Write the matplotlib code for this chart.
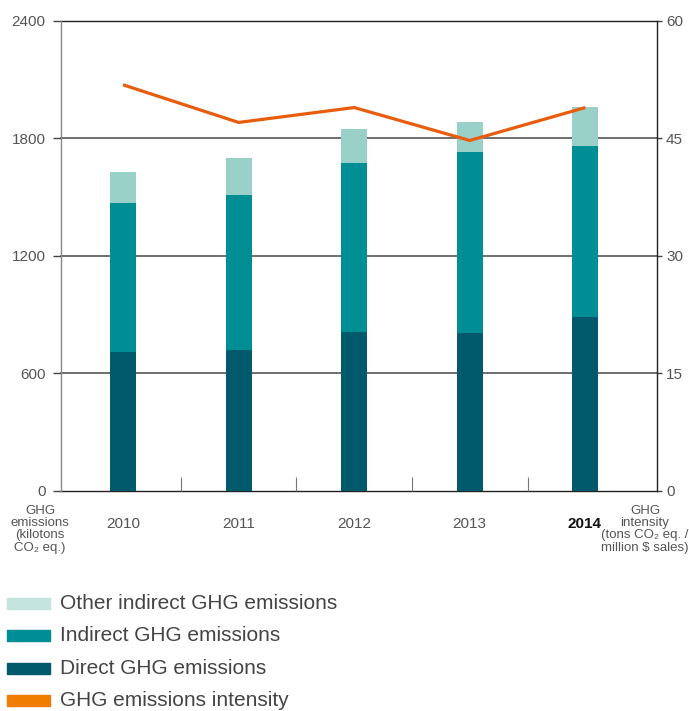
import matplotlib
matplotlib.use("Agg")
import matplotlib.pyplot as plt
from matplotlib.patches import Rectangle
import numpy as np

plt.rcParams['font.family'] = ['Liberation Sans', 'DejaVu Sans']

years = ["2010", "2011", "2012", "2013", "2014"]
direct = [708, 718, 810, 805, 887]
indirect = [760, 790, 861, 922, 871]
other_indirect = [157, 189, 174, 153, 199]
intensity = [51.8, 47.0, 48.9, 44.7, 48.9]
left_ticks = [0, 600, 1200, 1800, 2400]
right_ticks = [0, 15, 30, 45, 60]

c_other = "#99d1c9"
c_other_leg = "#c4e4de"
c_ind = "#008e95"
c_dir = "#005a6c"
c_line = "#e85d0c"
c_line_leg = "#ef7d00"
txt = "#555555"

W, H = 689, 711
fig = plt.figure(figsize=(W / 100, H / 100), dpi=100)
ax = fig.add_axes([61 / W, 1 - 491 / H, (657 - 61) / W, (491 - 20.5) / H])

x = np.arange(len(years))
bw = 0.225
ax.bar(x, direct, bw, color=c_dir, zorder=2)
ax.bar(x, indirect, bw, bottom=direct, color=c_ind, zorder=2)
bot2 = np.array(direct) + np.array(indirect)
ax.bar(x, other_indirect, bw, bottom=bot2, color=c_other, zorder=2)

ax.set_xlim(-0.537, 4.62)
ax.set_ylim(0, 2400)

for t in left_ticks:
    col = "#222222" if t in (0, 2400) else "#555555"
    ax.axhline(t, color=col, lw=1.0 if t in (0, 2400) else 1.2, zorder=1, clip_on=False)

ax.set_yticks(left_ticks)
ax.set_yticklabels([str(t) for t in left_ticks])
ax.tick_params(axis='y', length=6, width=1.0, color="#444444", labelsize=11,
               labelcolor=txt, pad=5)
ax.set_xticks([0.5, 1.5, 2.5, 3.5])
ax.set_xticklabels([])
ax.tick_params(axis='x', direction='in', length=10, width=0.8, color="#777777")

for s in ['top', 'bottom']:
    ax.spines[s].set_visible(False)
ax.spines['left'].set_color("#888888")
ax.spines['left'].set_linewidth(1.0)
ax.spines['right'].set_visible(False)

ax2 = ax.twinx()
ax2.set_ylim(0, 60)
ax2.set_xlim(ax.get_xlim())
ax2.plot(x, intensity, color=c_line, lw=2.3, zorder=5, solid_capstyle='butt')
ax2.set_yticks(right_ticks)
ax2.set_yticklabels([str(t) for t in right_ticks])
ax2.tick_params(axis='y', length=3.5, width=1.0, color="#444444", labelsize=11,
                labelcolor=txt, pad=3)
for s in ['top', 'bottom', 'left']:
    ax2.spines[s].set_visible(False)
ax2.spines['right'].set_color("#222222")
ax2.spines['right'].set_linewidth(1.0)

# year labels
for i, y in enumerate(years):
    fig.text((123 + 115.5 * i) / W, 1 - 524 / H, y, ha='center', va='center',
             fontsize=11, color="#111111" if i == 4 else txt,
             fontweight='bold' if i == 4 else 'normal')

fig.text(40 / W, 1 - 505 / H, "GHG\nemissions\n(kilotons\nCO\u2082 eq.)", ha='center', va='top',
         fontsize=9.5, color=txt, linespacing=1.02)
fig.text(645 / W, 1 - 505 / H, "GHG\nintensity\n(tons CO\u2082 eq. /\nmillion $ sales)", ha='center',
         va='top', fontsize=9.5, color=txt, linespacing=1.02)

# legend
leg = [(c_other_leg, "Other indirect GHG emissions"),
       (c_ind, "Indirect GHG emissions"),
       (c_dir, "Direct GHG emissions"),
       (c_line_leg, "GHG emissions intensity")]
for i, (c, lab) in enumerate(leg):
    yc = 603.5 + 32.3 * i
    fig.patches.append(Rectangle((7 / W, 1 - (yc + 5.5) / H), 43 / W, 11 / H,
                                 transform=fig.transFigure, color=c))
    fig.text(60 / W, 1 - yc / H, lab, ha='left', va='center', fontsize=15, color="#444444")

fig.savefig("out.png", dpi=100)
